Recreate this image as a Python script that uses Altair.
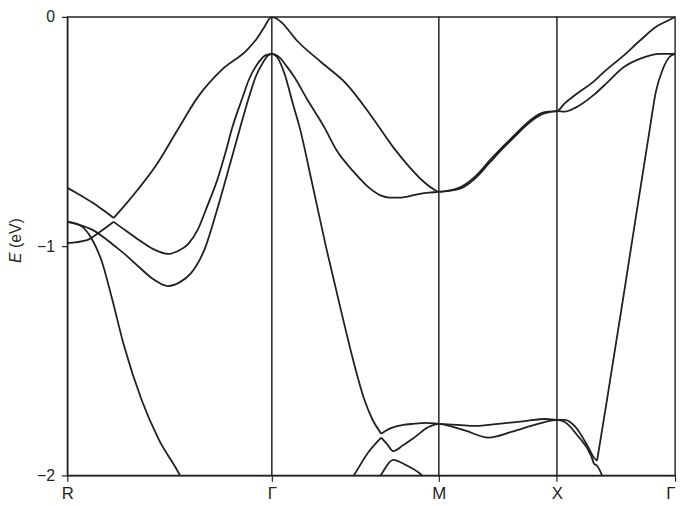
import altair as alt
import pandas as pd

# high-symmetry points (path length units) and labels
tick_k = [0.0, 1.732, 3.146, 4.146, 5.146]
tick_names = ["R", "Γ", "M", "X", "Γ"]
y_ticks = [-2, -1, 0]

# band segments: (k, E in eV)
band_a1 = [(0.0, -0.746), (0.100, -0.775), (0.209, -0.809), (0.293, -0.839), (0.393, -0.877)]
band_a2 = [(0.393, -0.877), (0.494, -0.818), (0.603, -0.750), (0.745, -0.653), (0.937, -0.490),
           (1.105, -0.350), (1.314, -0.228), (1.523, -0.144), (1.607, -0.093), (1.665, -0.047),
           (1.732, 0.0), (1.774, -0.008), (1.816, -0.025), (1.942, -0.102), (2.153, -0.199),
           (2.363, -0.292), (2.574, -0.432), (2.759, -0.568), (2.894, -0.653), (3.011, -0.716),
           (3.096, -0.750), (3.146, -0.763), (3.331, -0.742), (3.457, -0.695), (3.583, -0.623),
           (3.684, -0.568), (3.793, -0.513), (3.877, -0.470), (4.020, -0.419), (4.087, -0.413),
           (4.146, -0.411), (4.212, -0.377), (4.295, -0.343), (4.461, -0.280), (4.569, -0.229),
           (4.710, -0.169), (4.852, -0.102), (5.001, -0.038), (5.083, -0.017), (5.146, 0.0)]
band_b1 = [(0.0, -0.987), (0.159, -0.975), (0.268, -0.941), (0.393, -0.894)]
band_bs = [(0.393, -0.894), (0.494, -0.932), (0.577, -0.962), (0.728, -1.013), (0.854, -1.034),
           (0.937, -1.021), (1.021, -0.992), (1.105, -0.928), (1.188, -0.822), (1.272, -0.708),
           (1.339, -0.593), (1.397, -0.483), (1.481, -0.356), (1.540, -0.271), (1.607, -0.208),
           (1.674, -0.169), (1.732, -0.161), (1.799, -0.178), (1.858, -0.216), (1.917, -0.258),
           (2.027, -0.356), (2.178, -0.483), (2.279, -0.581), (2.422, -0.674), (2.557, -0.746),
           (2.658, -0.780), (2.725, -0.788), (2.826, -0.788), (2.953, -0.775), (3.062, -0.767),
           (3.146, -0.763), (3.331, -0.748), (3.457, -0.703), (3.583, -0.632), (3.684, -0.576),
           (3.793, -0.520), (3.877, -0.477), (4.020, -0.424), (4.087, -0.415), (4.146, -0.411),
           (4.212, -0.413), (4.295, -0.398), (4.461, -0.339), (4.569, -0.288), (4.710, -0.220),
           (4.852, -0.182), (5.017, -0.161), (5.146, -0.161)]
band_cf = [(0.0, -0.894), (0.100, -0.907), (0.209, -0.928), (0.310, -0.962), (0.393, -0.996),
           (0.494, -1.038), (0.603, -1.089), (0.728, -1.144), (0.854, -1.174), (0.954, -1.157),
           (1.046, -1.119), (1.163, -1.013), (1.272, -0.835), (1.372, -0.653), (1.464, -0.483),
           (1.540, -0.347), (1.598, -0.258), (1.657, -0.199), (1.699, -0.169), (1.732, -0.161),
           (1.774, -0.174), (1.841, -0.250), (1.909, -0.377), (1.968, -0.483), (2.069, -0.716),
           (2.195, -1.013), (2.321, -1.288), (2.422, -1.500), (2.515, -1.669), (2.582, -1.754),
           (2.658, -1.818)]
band_d = [(0.0, -0.894), (0.100, -0.907), (0.209, -0.970), (0.293, -1.068), (0.377, -1.225),
          (0.477, -1.428), (0.628, -1.669), (0.770, -1.839), (0.954, -2.0), (1.021, -2.072)]
band_fg = [(2.658, -1.818), (2.725, -1.797), (2.843, -1.780), (2.928, -1.775), (3.037, -1.771),
           (3.146, -1.775), (3.314, -1.780), (3.457, -1.784), (3.650, -1.775), (3.877, -1.763),
           (4.045, -1.754), (4.146, -1.758), (4.212, -1.758), (4.295, -1.784), (4.403, -1.869),
           (4.461, -1.924), (4.486, -1.936)]
band_g = [(4.486, -1.936), (4.561, -1.699), (4.727, -1.161), (4.934, -0.483), (4.984, -0.326),
          (5.042, -0.229), (5.100, -0.174), (5.146, -0.161)]
band_k1 = [(2.363, -2.051), (2.431, -1.996), (2.557, -1.894), (2.658, -1.835)]
band_k2 = [(2.658, -1.835), (2.708, -1.864), (2.759, -1.894), (2.843, -1.869), (2.928, -1.839),
           (3.062, -1.788), (3.146, -1.775), (3.264, -1.788), (3.373, -1.805), (3.566, -1.835),
           (3.768, -1.809), (3.986, -1.775), (4.146, -1.758), (4.212, -1.767), (4.320, -1.826),
           (4.436, -1.915), (4.461, -1.949), (4.486, -1.958), (4.528, -2.0), (4.544, -2.021)]
band_l = [(2.616, -2.030), (2.658, -1.996), (2.759, -1.932), (2.868, -1.955), (2.995, -1.996),
          (3.037, -2.017)]

segments = {
    "a1": band_a1, "a2": band_a2, "b1": band_b1, "bs": band_bs, "cf": band_cf,
    "d": band_d, "fg": band_fg, "g": band_g, "k1": band_k1, "k2": band_k2, "l": band_l,
}
rows = [{"seg": name, "k": k, "E": e} for name, pts in segments.items() for k, e in pts]
df = pd.DataFrame(rows)

INK = "#231f20"
FONT = "Liberation Sans"

# label expression from tick list
expr = "'" + tick_names[-1] + "'"
for i in range(len(tick_k) - 2, -1, -1):
    mid = (tick_k[i] + tick_k[i + 1]) / 2
    expr = f"datum.value < {mid} ? '{tick_names[i]}' : ({expr})"

y_expr = "datum.value < 0 ? '\u2212' + format(-datum.value, 'd') : format(datum.value, 'd')"

xscale = alt.Scale(domain=[tick_k[0], tick_k[-1]], nice=False, zero=False)
yscale = alt.Scale(domain=[-2, 0], nice=False)

lines = alt.Chart(df).mark_line(
    clip=True, interpolate="monotone", color=INK, strokeWidth=1.8
).encode(
    x=alt.X("k:Q", scale=xscale,
            axis=alt.Axis(values=tick_k, labelExpr=expr, title=None, grid=False,
                          labelFlush=False, labelOverlap=False, labelFontSize=17,
                          labelPadding=4, tickSize=6,
                          labelAlign={"condition": {"test": f"datum.value > {tick_k[-1] - 0.01}",
                                                    "value": "right"},
                                      "value": "center"})),
    y=alt.Y("E:Q", scale=yscale,
            axis=alt.Axis(values=y_ticks, labelExpr=y_expr, title=None, grid=False,
                          labelFontSize=16, labelOverlap=False, labelFlush=False,
                          labelPadding=7, tickSize=6)),
    detail="seg:N",
)

vdf = pd.DataFrame({"k": tick_k[1:4]})
vlines = alt.Chart(vdf).mark_rule(color=INK, strokeWidth=1.5).encode(x=alt.X("k:Q", scale=xscale))

tdf = pd.DataFrame({"t": [0]})
title_e = alt.Chart(tdf).mark_text(
    angle=270, align="left", baseline="alphabetic", font=FONT, fontSize=16,
    fontStyle="italic", color=INK
).encode(x=alt.value(-47), y=alt.value(249), text=alt.value("E"))
title_unit = alt.Chart(tdf).mark_text(
    angle=270, align="left", baseline="alphabetic", font=FONT, fontSize=16, color=INK
).encode(x=alt.value(-47), y=alt.value(234), text=alt.value("(eV)"))

chart = alt.layer(vlines, lines, title_e, title_unit).properties(
    width=615, height=464,
    autosize=alt.AutoSizeParams(type="none"),
    padding={"left": 60, "top": 6, "right": 2, "bottom": 28},
).configure_view(
    stroke=INK, strokeWidth=1.4
).configure_axis(
    domainColor=INK, domainWidth=1.4, tickColor=INK, tickWidth=1.2,
    labelColor=INK, labelFont=FONT,
)

chart.save("out.html", embed_options={"renderer": "svg", "actions": False})
